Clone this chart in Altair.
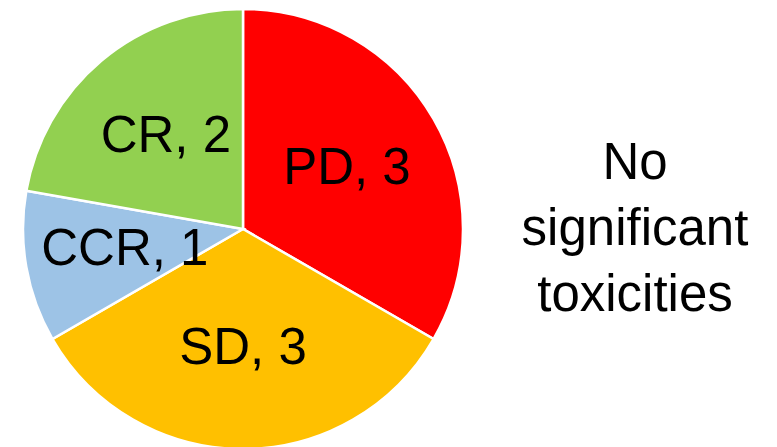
import altair as alt
import pandas as pd

# Response categories, patient counts and slice colours (clockwise from 12 o'clock)
categories = ["PD", "SD", "CCR", "CR"]
counts = [3, 3, 1, 2]
colors = ["#FF0000", "#FFC000", "#9DC3E6", "#92D050"]
note_lines = ["No", "significant", "toxicities"]

df = pd.DataFrame({
    "category": categories,
    "count": counts,
    "order": list(range(len(categories))),
})
df["label"] = df["category"] + ", " + df["count"].astype(str)

FONT = "Liberation Sans"
CX, CY = 243, 229

theta = alt.Theta("count:Q", stack=True)
color = alt.Color("category:N", scale=alt.Scale(domain=categories, range=colors), legend=None)
order = alt.Order("order:Q", sort="ascending")

pie = alt.Chart(df).mark_arc(outerRadius=220, stroke="white", strokeWidth=2.5).encode(
    theta=theta, color=color, order=order,
    x=alt.value(CX), y=alt.value(CY),
)

labels = alt.Chart(df).mark_text(
    radius=120, font=FONT, fontSize=51, color="black", align="center", baseline="middle",
).encode(
    theta=theta, order=order, text="label:N",
    x=alt.value(CX), y=alt.value(CY),
)

note = alt.Chart(pd.DataFrame({"note": [note_lines]})).mark_text(
    font=FONT, fontSize=51, color="black", align="center", baseline="alphabetic", lineHeight=66,
).encode(
    text="note",
    x=alt.value(635), y=alt.value(179),
)

chart = alt.layer(pie, labels, note).properties(
    width=777, height=447, padding=0, autosize="none",
).configure_view(stroke=None)

chart.save("out.html", embed_options={"renderer": "svg", "actions": False})
